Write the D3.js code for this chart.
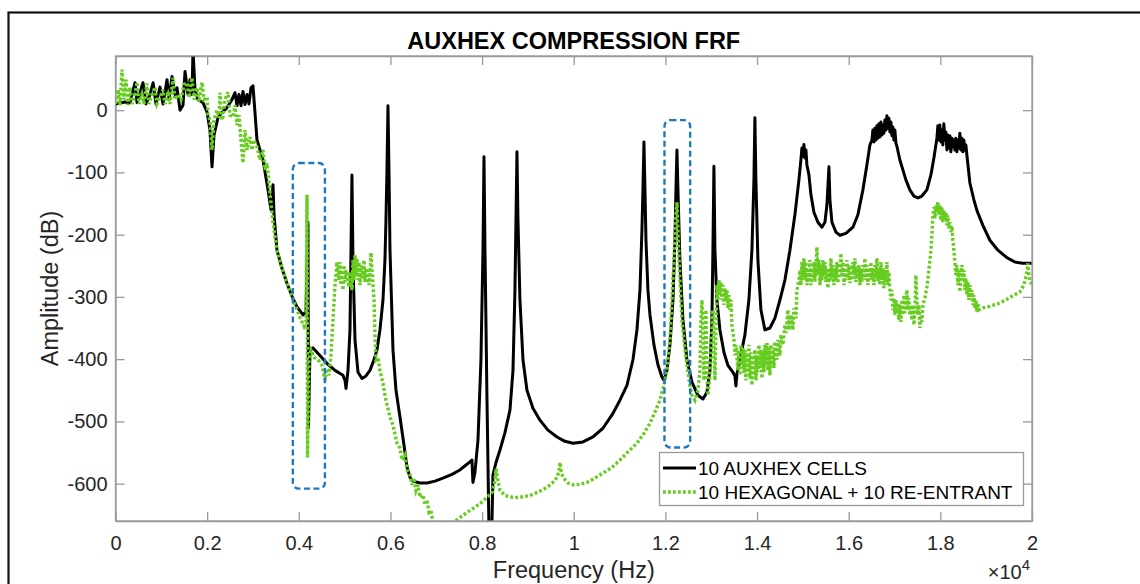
<!DOCTYPE html>
<html>
<head>
<meta charset="utf-8">
<script src="https://cdn.jsdelivr.net/npm/d3@7"></script>
<style>
  html, body { margin: 0; padding: 0; background: #ffffff; }
  svg { display: block; font-family: "Liberation Sans", Arial, Helvetica, sans-serif; }
</style>
</head>
<body>
<svg id="chart" width="1140" height="584"></svg>
<script>
// ---------------- DATA ----------------
const chartTitle = "AUXHEX COMPRESSION FRF";
const xAxisLabel = "Frequency (Hz)";
const yAxisLabel = "Amplitude (dB)";
const xExponentBase = "\u00D710";
const xExponent = "4";

const xTickValues = [0, 2000, 4000, 6000, 8000, 10000, 12000, 14000, 16000, 18000, 20000];
const xTickLabels = ["0", "0.2", "0.4", "0.6", "0.8", "1", "1.2", "1.4", "1.6", "1.8", "2"];
const yTickValues = [-600, -500, -400, -300, -200, -100, 0];
const yTickLabels = ["-600", "-500", "-400", "-300", "-200", "-100", "0"];
const xDomain = [0, 20000];
const yDomain = [-660, 87];

const seriesNames = ["10 AUXHEX CELLS", "10 HEXAGONAL + 10 RE-ENTRANT"];

// [frequency Hz, amplitude dB] — 10 AUXHEX CELLS
const auxhexPoints = [
  [0,10],[207,13],[317,12],[425,44],[470,12],[600,44],[666,10],[753,25],[820,44],[884,10],
  [971,37],[1037,10],[1124,49],[1168,17],[1233,54],[1299,25],[1342,36],[1408,0],[1473,8],[1517,62],
  [1582,25],[1626,49],[1670,25],[1691,97],[1735,33],[1800,17],[1909,12],[1997,-3],[2062,-32],[2106,-91],
  [2149,-40],[2236,-12],[2324,-4],[2433,4],[2542,17],[2608,28],[2651,7],[2695,25],[2739,7],[2782,30],
  [2826,9],[2870,25],[2913,10],[2957,36],[3000,39],[3044,-4],[3088,-48],[3219,-80],[3328,-128],[3393,-160],
  [3437,-120],[3459,-168],[3524,-225],[3633,-254],[3742,-278],[3852,-299],[3961,-316],[4092,-329],[4157,-324],[4200,-180],
  [4211,-510],[4244,-386],[4310,-382],[4462,-394],[4615,-407],[4790,-418],[4964,-426],[5008,-434],[5030,-447],[5074,-418],
  [5117,-353],[5139,-225],[5160,-104],[5182,-241],[5226,-369],[5292,-421],[5379,-431],[5466,-427],[5553,-418],[5640,-401],
  [5706,-385],[5771,-353],[5837,-305],[5880,-241],[5902,-177],[5924,-96],[5946,7],[5968,-96],[5990,-225],[6055,-385],
  [6121,-450],[6208,-493],[6295,-538],[6361,-573],[6426,-590],[6492,-596],[6644,-599],[6797,-599],[6972,-596],[7146,-591],
  [7342,-585],[7517,-578],[7648,-570],[7735,-565],[7779,-562],[7800,-598],[7844,-582],[7910,-530],[7975,-401],[8019,-225],
  [8041,-75],[8063,-225],[8107,-466],[8150,-675],[8194,-723],[8216,-659],[8237,-586],[8303,-566],[8390,-546],[8499,-518],
  [8608,-482],[8674,-418],[8717,-289],[8739,-177],[8761,-67],[8783,-177],[8826,-305],[8892,-401],[8979,-450],[9110,-479],
  [9263,-498],[9437,-514],[9634,-525],[9808,-532],[9983,-535],[10201,-533],[10419,-525],[10637,-511],[10856,-487],[11008,-466],
  [11161,-442],[11292,-401],[11379,-353],[11445,-289],[11488,-193],[11510,-128],[11532,-51],[11554,-128],[11576,-209],[11619,-289],
  [11663,-329],[11750,-377],[11837,-409],[11925,-429],[11968,-434],[12034,-418],[12099,-377],[12165,-305],[12208,-209],[12230,-128],
  [12252,-64],[12274,-128],[12317,-241],[12383,-337],[12470,-401],[12579,-437],[12710,-458],[12819,-464],[12906,-453],[12972,-418],
  [13015,-337],[13037,-225],[13059,-90],[13081,-225],[13124,-305],[13190,-353],[13277,-389],[13364,-410],[13473,-421],[13517,-427],
  [13539,-443],[13561,-424],[13626,-401],[13735,-361],[13822,-305],[13888,-225],[13932,-112],[13953,-12],[13975,-112],[14019,-241],
  [14085,-321],[14172,-353],[14281,-350],[14390,-334],[14499,-305],[14608,-273],[14717,-225],[14826,-168],[14914,-112],[14957,-80],
  [14979,-61],[15001,-74],[15023,-55],[15045,-77],[15067,-64],[15088,-88],[15132,-104],[15176,-136],[15241,-164],[15328,-180],
  [15416,-188],[15481,-180],[15525,-152],[15569,-91],[15590,-144],[15634,-180],[15721,-196],[15808,-201],[15939,-198],[16092,-188],
  [16201,-168],[16310,-128],[16397,-88],[16463,-56],[16507,-48],[16528,-32],[16550,-51],[16572,-29],[16594,-48],[16616,-25],
  [16637,-45],[16659,-22],[16681,-43],[16703,-19],[16725,-40],[16746,-24],[16768,-37],[16790,-16],[16812,-32],[16834,-9],
  [16855,-29],[16877,-13],[16899,-35],[16921,-19],[16943,-41],[16964,-27],[16986,-48],[17008,-32],[17030,-53],[17052,-58],
  [17117,-80],[17183,-96],[17248,-112],[17335,-128],[17423,-138],[17510,-141],[17597,-138],[17706,-128],[17794,-104],[17859,-77],
  [17925,-45],[17946,-25],[17968,-48],[17990,-24],[18012,-51],[18034,-32],[18055,-56],[18077,-22],[18099,-48],[18121,-35],
  [18143,-64],[18164,-40],[18186,-61],[18208,-41],[18230,-67],[18252,-45],[18273,-59],[18295,-48],[18317,-64],[18339,-45],
  [18361,-67],[18383,-48],[18404,-61],[18426,-37],[18448,-64],[18470,-45],[18492,-67],[18513,-48],[18535,-64],[18557,-56],
  [18579,-72],[18645,-117],[18732,-144],[18797,-161],[18928,-185],[19081,-209],[19256,-225],[19452,-237],[19627,-244],[19801,-246],
  [20000,-246]
];

// [frequency Hz, amplitude dB] — 10 HEXAGONAL + 10 RE-ENTRANT
const hexReentrantPoints = [
  [0,10],[55,33],[98,8],[142,65],[185,17],[229,49],[273,8],[316,37],[360,10],[425,25],
  [469,45],[513,10],[578,25],[622,10],[687,43],[731,10],[796,25],[862,37],[906,10],[971,20],
  [1036,33],[1080,10],[1146,25],[1189,10],[1255,52],[1298,17],[1364,25],[1429,17],[1495,41],[1560,44],
  [1604,20],[1669,52],[1713,17],[1778,36],[1822,13],[1887,45],[1931,17],[1997,21],[2019,-8],[2062,-16],
  [2084,-40],[2106,-64],[2149,-16],[2214,0],[2258,-12],[2280,28],[2324,-16],[2346,-11],[2389,17],[2455,29],
  [2498,-8],[2564,-11],[2608,8],[2651,-24],[2695,-8],[2739,-48],[2782,-85],[2826,-32],[2870,-64],[2935,-43],
  [2979,-64],[3022,-48],[3088,-59],[3153,-80],[3219,-64],[3262,-96],[3306,-85],[3371,-133],[3437,-181],[3524,-225],
  [3633,-254],[3742,-278],[3852,-299],[3961,-321],[4048,-337],[4114,-347],[4157,-340],[4179,-136],[4190,-558],[4222,-402],
  [4266,-386],[4332,-397],[4419,-401],[4506,-410],[4571,-434],[4615,-415],[4659,-426],[4702,-394],[4746,-337],[4790,-281],
  [4833,-244],[4877,-273],[4899,-244],[4921,-281],[4942,-257],[4964,-289],[4986,-249],[5008,-276],[5030,-257],[5052,-265],
  [5095,-284],[5117,-260],[5161,-289],[5182,-241],[5204,-273],[5226,-233],[5248,-265],[5270,-238],[5292,-273],[5313,-244],
  [5335,-281],[5357,-249],[5379,-270],[5422,-241],[5444,-276],[5466,-254],[5488,-278],[5510,-254],[5532,-281],[5553,-265],
  [5575,-229],[5597,-257],[5641,-305],[5662,-361],[5684,-401],[5728,-397],[5771,-418],[5837,-439],[5902,-466],[5990,-493],
  [6055,-506],[6142,-535],[6208,-543],[6252,-562],[6317,-554],[6361,-578],[6426,-586],[6470,-602],[6513,-591],[6557,-611],
  [6601,-602],[6644,-622],[6710,-618],[6753,-634],[6797,-626],[6841,-646],[6884,-643],[6928,-662],[6993,-675],[7080,-691],
  [7128,-699],[7302,-667],[7520,-654],[7738,-643],[7956,-632],[8109,-622],[8218,-614],[8280,-595],[8303,-576],[8346,-595],
  [8390,-611],[8499,-619],[8673,-622],[8826,-622],[9045,-619],[9263,-612],[9416,-606],[9547,-598],[9634,-590],[9678,-579],
  [9700,-566],[9721,-579],[9765,-590],[9874,-599],[9983,-602],[10136,-601],[10289,-598],[10463,-591],[10637,-583],[10834,-574],
  [11009,-562],[11183,-549],[11379,-535],[11532,-519],[11663,-503],[11772,-485],[11881,-466],[11968,-442],[12034,-418],[12099,-369],
  [12143,-305],[12187,-241],[12230,-168],[12252,-148],[12274,-193],[12317,-273],[12361,-337],[12427,-385],[12492,-421],[12536,-442],
  [12579,-458],[12645,-466],[12710,-450],[12754,-418],[12776,-337],[12798,-305],[12819,-353],[12841,-434],[12863,-401],[12885,-321],
  [12907,-418],[12928,-458],[12972,-426],[13016,-353],[13037,-321],[13059,-385],[13081,-434],[13103,-353],[13125,-281],[13146,-305],
  [13168,-273],[13190,-297],[13212,-276],[13234,-305],[13256,-281],[13277,-313],[13299,-286],[13321,-305],[13343,-289],[13365,-318],
  [13386,-297],[13408,-321],[13430,-305],[13452,-345],[13496,-369],[13517,-394],[13539,-377],[13583,-418],[13605,-385],[13627,-426],
  [13648,-377],[13670,-410],[13692,-382],[13714,-422],[13736,-385],[13757,-434],[13779,-394],[13801,-418],[13823,-377],[13845,-431],
  [13867,-389],[13888,-442],[13910,-398],[13932,-426],[13954,-385],[13976,-434],[13997,-394],[14019,-421],[14041,-377],[14063,-414],
  [14085,-385],[14107,-431],[14128,-389],[14150,-421],[14172,-377],[14194,-410],[14216,-374],[14237,-418],[14259,-382],[14281,-426],
  [14303,-377],[14325,-410],[14347,-385],[14368,-414],[14390,-372],[14434,-401],[14456,-369],[14499,-394],[14521,-361],[14565,-377],
  [14608,-345],[14630,-358],[14674,-321],[14696,-353],[14739,-329],[14783,-353],[14805,-318],[14849,-334],[14870,-289],[14914,-273],
  [14936,-257],[14958,-281],[14980,-244],[15001,-273],[15023,-238],[15045,-270],[15067,-244],[15089,-281],[15110,-257],[15132,-273],
  [15154,-241],[15176,-281],[15198,-254],[15219,-270],[15241,-244],[15263,-276],[15285,-249],[15307,-220],[15328,-265],[15350,-241],
  [15372,-281],[15394,-249],[15416,-273],[15438,-241],[15459,-265],[15481,-244],[15503,-276],[15525,-254],[15547,-286],[15568,-257],
  [15590,-276],[15612,-238],[15634,-270],[15656,-249],[15677,-281],[15699,-254],[15721,-273],[15743,-244],[15765,-278],[15787,-254],
  [15808,-270],[15830,-230],[15852,-265],[15874,-244],[15896,-281],[15917,-257],[15939,-273],[15961,-241],[15983,-270],[16005,-249],
  [16026,-278],[16048,-257],[16070,-273],[16092,-244],[16114,-265],[16135,-238],[16157,-276],[16179,-254],[16201,-270],[16223,-249],
  [16245,-281],[16266,-257],[16288,-276],[16310,-249],[16332,-270],[16354,-238],[16375,-273],[16397,-249],[16419,-281],[16441,-257],
  [16463,-273],[16485,-244],[16507,-270],[16528,-254],[16550,-281],[16572,-249],[16594,-270],[16616,-238],[16637,-276],[16659,-254],
  [16681,-281],[16703,-244],[16725,-273],[16746,-254],[16768,-286],[16790,-257],[16812,-276],[16834,-244],[16855,-281],[16877,-260],
  [16899,-289],[16921,-305],[16943,-289],[16964,-321],[16986,-302],[17008,-329],[17030,-305],[17052,-326],[17073,-310],[17095,-337],
  [17117,-313],[17139,-340],[17161,-305],[17183,-329],[17204,-297],[17226,-326],[17248,-305],[17270,-289],[17292,-321],[17314,-302],
  [17335,-329],[17357,-313],[17379,-337],[17401,-313],[17423,-345],[17444,-321],[17466,-265],[17488,-305],[17510,-329],[17532,-313],
  [17554,-350],[17575,-329],[17597,-340],[17619,-313],[17663,-302],[17706,-284],[17750,-257],[17794,-225],[17815,-201],[17837,-169],
  [17859,-156],[17881,-174],[17903,-153],[17925,-164],[17946,-148],[17968,-168],[17990,-153],[18012,-177],[18034,-156],[18055,-180],
  [18077,-161],[18099,-174],[18121,-164],[18143,-185],[18164,-169],[18186,-190],[18208,-180],[18230,-196],[18252,-186],[18273,-209],
  [18295,-225],[18317,-244],[18339,-265],[18361,-249],[18383,-281],[18404,-257],[18426,-292],[18448,-265],[18470,-249],[18492,-273],
  [18513,-257],[18535,-289],[18557,-270],[18579,-297],[18601,-276],[18622,-305],[18644,-281],[18666,-302],[18688,-289],[18710,-313],
  [18731,-297],[18753,-318],[18775,-305],[18797,-324],[18819,-310],[18840,-321],[18906,-318],[19081,-315],[19256,-311],[19430,-305],
  [19583,-298],[19736,-292],[19823,-281],[19889,-260],[19910,-246],[19932,-265],[19954,-276],[20000,-279]
];

// highlighted regions: [freqStart, freqEnd, ampTop, ampBottom]
const highlightRegions = [
  [3870, 4570, -85, -608],
  [11980, 12540, -16, -542]
];

// ---------------- DRAWING ----------------
const W = 1140, H = 584;
const plot = { left: 115.5, right: 1032, top: 56, bottom: 521 };
const fontFamily = '"Liberation Sans", Arial, Helvetica, sans-serif';
const axisColor = "#9a9a9a";
const textColor = "#262626";
const blackColor = "#000000";
const greenColor = "#66cc1f";
const blueColor = "#1f78c0";

const svg = d3.select("#chart");
svg.append("rect").attr("width", W).attr("height", H).attr("fill", "#fff");

// outer figure frame
svg.append("rect")
  .attr("x", 8.5).attr("y", 12.5).attr("width", 1140).attr("height", 640)
  .attr("fill", "none").attr("stroke", "#111").attr("stroke-width", 2.2);

const x = d3.scaleLinear().domain(xDomain).range([plot.left, plot.right]);
const y = d3.scaleLinear().domain(yDomain).range([plot.bottom, plot.top]);

svg.append("defs").append("clipPath").attr("id", "plotClip")
  .append("rect")
  .attr("x", plot.left).attr("y", plot.top)
  .attr("width", plot.right - plot.left).attr("height", plot.bottom - plot.top);

// axes
const tickLen = 9;
const xAxisB = d3.axisBottom(x).tickValues(xTickValues)
  .tickFormat((d, i) => xTickLabels[i]).tickSizeInner(-tickLen).tickSizeOuter(0).tickPadding(15);
const xAxisT = d3.axisTop(x).tickValues(xTickValues)
  .tickFormat("").tickSizeInner(-tickLen).tickSizeOuter(0);
const yAxisL = d3.axisLeft(y).tickValues(yTickValues)
  .tickFormat((d, i) => yTickLabels[i]).tickSizeInner(-tickLen).tickSizeOuter(0).tickPadding(8);
const yAxisR = d3.axisRight(y).tickValues(yTickValues)
  .tickFormat("").tickSizeInner(-tickLen).tickSizeOuter(0);

function styleAxis(g) {
  g.select(".domain").attr("stroke", axisColor).attr("stroke-width", 1.3);
  g.selectAll(".tick line").attr("stroke", axisColor).attr("stroke-width", 1.3);
  g.selectAll(".tick text").attr("fill", textColor).attr("font-size", 20).attr("font-family", fontFamily);
}

svg.append("g").attr("transform", `translate(0,${plot.bottom})`).call(xAxisB).call(styleAxis);
svg.append("g").attr("transform", `translate(0,${plot.top})`).call(xAxisT).call(styleAxis);
svg.append("g").attr("transform", `translate(${plot.left},0)`).call(yAxisL).call(styleAxis);
svg.append("g").attr("transform", `translate(${plot.right},0)`).call(yAxisR).call(styleAxis);

// series
const line = d3.line().x(d => x(d[0])).y(d => y(d[1]));
const dataG = svg.append("g").attr("clip-path", "url(#plotClip)");

dataG.append("path").datum(auxhexPoints)
  .attr("d", line).attr("fill", "none")
  .attr("stroke", blackColor).attr("stroke-width", 3).attr("stroke-linejoin", "round");

dataG.append("path").datum(hexReentrantPoints)
  .attr("d", line).attr("fill", "none")
  .attr("stroke", greenColor).attr("stroke-width", 3.4)
  .attr("stroke-dasharray", "2.8 2.2").attr("stroke-linecap", "butt");

// highlight boxes
svg.append("g").selectAll("rect").data(highlightRegions).join("rect")
  .attr("x", d => x(d[0])).attr("y", d => y(d[2]))
  .attr("width", d => x(d[1]) - x(d[0])).attr("height", d => y(d[3]) - y(d[2]))
  .attr("rx", 6).attr("ry", 6)
  .attr("fill", "none").attr("stroke", blueColor).attr("stroke-width", 2.4)
  .attr("stroke-dasharray", "6 3.5");

// plot frame
svg.append("rect")
  .attr("x", plot.left).attr("y", plot.top)
  .attr("width", plot.right - plot.left).attr("height", plot.bottom - plot.top)
  .attr("fill", "none").attr("stroke", axisColor).attr("stroke-width", 1.3);

// title
svg.append("text")
  .attr("x", (plot.left + plot.right) / 2).attr("y", 49)
  .attr("text-anchor", "middle").attr("font-weight", "bold")
  .attr("font-size", 23.5).attr("font-family", fontFamily).attr("fill", "#000")
  .text(chartTitle);

// axis labels
svg.append("text")
  .attr("x", (plot.left + plot.right) / 2).attr("y", 578)
  .attr("text-anchor", "middle").attr("font-size", 23.5)
  .attr("font-family", fontFamily).attr("fill", textColor)
  .text(xAxisLabel);

svg.append("text")
  .attr("transform", `translate(58,${(plot.top + plot.bottom) / 2}) rotate(-90)`)
  .attr("text-anchor", "middle").attr("font-size", 23.5)
  .attr("font-family", fontFamily).attr("fill", textColor)
  .text(yAxisLabel);

// exponent
const expT = svg.append("text")
  .attr("x", 1030).attr("y", 579)
  .attr("text-anchor", "end").attr("font-family", fontFamily).attr("fill", textColor);
expT.append("tspan").attr("font-size", 20).text(xExponentBase);
expT.append("tspan").attr("font-size", 15).attr("dy", -9).text(xExponent);

// legend
const legend = { x: 659, y: 452, w: 364, h: 53 };
svg.append("rect")
  .attr("x", legend.x + 0.5).attr("y", legend.y + 0.5)
  .attr("width", legend.w).attr("height", legend.h)
  .attr("fill", "#fff").attr("stroke", axisColor).attr("stroke-width", 1.3);

const legendStyles = [
  { stroke: blackColor, width: 3, dash: null },
  { stroke: greenColor, width: 3.4, dash: "2.8 2.2" }
];
seriesNames.forEach((name, i) => {
  const cy = legend.y + 16 + i * 24;
  const l = svg.append("line")
    .attr("x1", legend.x + 4).attr("x2", legend.x + 37)
    .attr("y1", cy).attr("y2", cy)
    .attr("stroke", legendStyles[i].stroke).attr("stroke-width", legendStyles[i].width);
  if (legendStyles[i].dash) l.attr("stroke-dasharray", legendStyles[i].dash);
  svg.append("text")
    .attr("x", legend.x + 39).attr("y", cy + 7)
    .attr("font-size", 19).attr("font-family", fontFamily).attr("fill", "#000")
    .text(name);
});
</script>
</body>
</html>
